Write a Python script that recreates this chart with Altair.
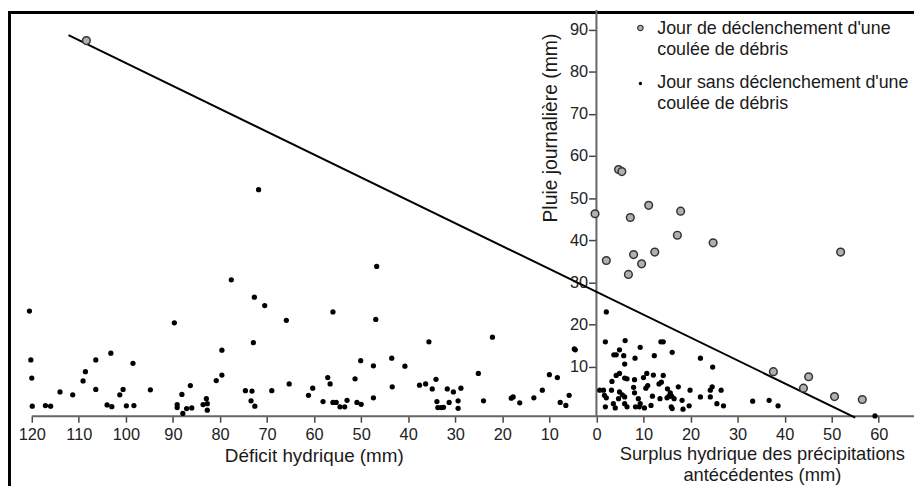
import altair as alt
import pandas as pd

# ---- data ----
# days with a debris flow (x: <0 = hydric deficit, >0 = antecedent surplus, mm ; y: daily rain, mm)
flow_x = [-108.4, -0.3, 4.7, 5.4, 7.2, 11.1, 17.9, 17.2, 24.8, 2.1, 7.9, 6.8, 9.6, 12.4, 51.9,
          37.6, 45.1, 44.0, 50.6, 56.5]
flow_y = [87.4, 46.3, 56.8, 56.3, 45.4, 48.3, 46.9, 41.2, 39.4, 35.2, 36.6, 31.9, 34.4, 37.2, 37.2,
          8.8, 7.6, 4.9, 2.9, 2.2]

# days without a debris flow
noflow_x = [-120.5, -120.2, -120.0, -119.9, -117.1, -116.0, -114.0, -111.3, -109.1, -108.6, -106.4, -106.4,
            -103.2, -104.0, -103.0, -101.3, -100.6, -98.5, -99.9, -98.3, -94.8, -89.7, -89.1, -89.1, -88.1,
            -87.9, -87.1, -86.0, -86.3, -83.6, -82.9, -82.7, -82.7, -80.8,
            -71.8, -77.6, -72.7, -70.5, -65.9, -56.0, -46.7, -46.9, -72.9, -79.6, -79.6, -74.6, -73.2, -73.4,
            -72.6, -69.0, -65.3, -61.2, -60.3, -58.1, -57.1, -56.6, -56.0, -55.3, -54.5, -53.5, -53.0, -51.3,
            -50.9, -50.0, -50.1, -47.4, -47.4, -43.5, -43.4, -40.7,
            -35.6, -37.6, -36.3, -34.9, -34.1, -33.9, -33.7, -33.0, -32.5, -31.7, -31.3, -30.4, -29.4, -29.4,
            -28.8, -25.1, -24.0, -22.1, -18.1, -17.7, -16.3, -13.3, -11.5, -10.0, -8.3, -7.7, -6.5, -5.8,
            -4.7, -4.5,
            1.9, 6.1, 13.7, 14.2, 9.3, 4.9, 3.7, 4.2, 5.8, 8.2, 12.3, 16.1, 22.1, 24.7, 6.0, 3.3, 4.2, 4.9,
            6.0, 6.5, 8.1, 10.0, 10.7, 12.1, 14.2, 13.8, 13.3, 10.9, 10.5, 7.9, 8.1, 1.5, 3.2, 4.9, 5.5, 6.0,
            4.7, 2.1, 1.9, 3.6, 4.0, 6.0, 6.5, 8.9, 9.3, 10.2, 9.1, 8.3, 11.9, 11.6, 13.5, 15.1, 15.7, 16.0,
            16.5, 15.4, 15.0, 17.4, 16.1, 15.9, 18.2, 18.4, 19.9, 19.7, 22.1, 24.2, 24.6, 24.2, 26.5, 25.6,
            27.0, 33.2, 36.7, 38.6, 2.1, 0.7, 1.7, 59.2]
noflow_y = [23.2, 11.6, 7.3, 0.6, 0.75, 0.6, 4.0, 3.3, 6.6, 8.8, 11.6, 4.6,
            13.2, 0.9, 0.5, 3.3, 4.6, 10.8, 0.7, 0.75, 4.5, 20.4, 1.0, 0.3, 3.4,
            -1.1, 0.05, 0.2, 5.5, 1.0, 2.4, 1.2, -0.35, 6.7,
            52.0, 30.6, 26.5, 24.5, 21.0, 23.0, 33.8, 21.2, 15.7, 13.9, 8.0, 4.3, 4.2, 1.9,
            0.6, 4.3, 5.9, 3.2, 4.9, 1.7, 7.4, 5.9, 1.5, 1.5, 0.45, 0.45, 2.0, 7.1,
            1.5, 1.05, 11.4, 10.2, 2.6, 12.0, 5.2, 10.1,
            15.9, 5.6, 5.9, 4.7, 7.0, 1.7, 0.3, 0.3, 0.35, 4.7, 1.5, 4.0, 1.9, 0.1,
            4.9, 8.4, 1.9, 17.0, 2.5, 2.8, 1.4, 2.6, 4.4, 8.1, 7.4, 1.5, 0.8, 3.2,
            14.2, 14.0,
            15.9, 16.2, 15.9, 15.9, 14.6, 14.0, 12.8, 12.8, 12.6, 12.0, 12.6, 13.4, 12.0, 9.9, 10.6, 6.5, 7.9, 8.4,
            7.3, 7.1, 6.9, 7.4, 8.4, 8.0, 7.9, 6.3, 5.9, 5.5, 4.9, 5.1, 3.8, 4.4, 4.4, 4.0, 3.3, 2.8,
            2.4, 2.6, 0.45, 1.2, 0.2, 1.2, 0.45, 2.4, 1.2, 0.2, 0.45, 0.45, 3.0, 0.8, 2.4, 4.75, 3.8, 3.0,
            2.4, 3.0, 2.6, 5.2, 0.05, 0.45, 2.0, -0.1, 4.4, 0.7, 2.8, 4.4, 5.2, 2.8, 4.4, 1.2,
            0.7, 1.8, 2.0, 0.7, 23.0, 4.4, 3.2, -1.7]

# threshold line end points
thr_x = [-112.2, 55.0]
thr_y = [88.7, -2.1]

x_ticks = [-120, -110, -100, -90, -80, -70, -60, -50, -40, -30, -20, -10, 0, 10, 20, 30, 40, 50, 60]
y_ticks = [10, 20, 30, 40, 50, 60, 70, 80, 90]

legend_1 = ["Jour de déclenchement d'une", "coulée de débris"]
legend_2 = ["Jour sans déclenchement d'une", "coulée de débris"]
title_x_left = "Déficit hydrique (mm)"
title_x_right = ["Surplus hydrique des précipitations", "antécédentes (mm)"]
title_y = "Pluie journalière (mm)"

# ---- layout constants ----
W, H = 914, 480
XDOM = [-125.056, 67.49]
YDOM = [-18.31, 94.64]
AXIS_Y0 = -1.76   # data level of the drawn x-axis line
FONT = "Liberation Sans"

flows = pd.DataFrame({"x": flow_x, "y": flow_y})
noflows = pd.DataFrame({"x": noflow_x, "y": noflow_y})
thr = pd.DataFrame({"x": thr_x, "y": thr_y})
xline = pd.DataFrame({"x": [x_ticks[0]], "x2": [XDOM[1]], "y": [AXIS_Y0]})
yline = pd.DataFrame({"x": [0], "y": [AXIS_Y0], "y2": [YDOM[1]]})

xscale = alt.Scale(domain=XDOM, nice=False, zero=False)
yscale = alt.Scale(domain=YDOM, nice=False, zero=False)

xaxis = alt.Axis(orient="bottom", offset=-70.3, values=x_ticks, labelExpr="abs(datum.value)",
                 domain=False, grid=False, title=None, tickSize=6, tickColor="#444", tickWidth=1.5,
                 labelPadding=4, labelFontSize=16.5, labelFont=FONT, labelColor="#222",
                 labelOverlap=False, labelFlush=False, labelBound=False)
yaxis = alt.Axis(orient="left", offset=-593.7, values=y_ticks,
                 domain=False, grid=False, title=None, tickSize=8, tickColor="#444", tickWidth=1.5,
                 labelPadding=1, labelFontSize=16.5, labelFont=FONT, labelColor="#222",
                 labelOverlap=False, labelFlush=False, labelBound=False)


def X(field="x"):
    return alt.X(f"{field}:Q", scale=xscale, axis=xaxis)


def Y(field="y"):
    return alt.Y(f"{field}:Q", scale=yscale, axis=yaxis)


axis_x_line = alt.Chart(xline).mark_rule(color="#666", strokeWidth=2).encode(
    x=X(), x2="x2:Q", y=Y())
axis_y_line = alt.Chart(yline).mark_rule(color="#666", strokeWidth=2).encode(
    x=X(), y=Y(), y2="y2:Q")

frame_left = alt.Chart(pd.DataFrame({"k": [0]})).mark_rule(color="black", strokeWidth=3).encode(
    x=alt.value(1.5), y=alt.value(1), y2=alt.value(H))
frame_top = alt.Chart(pd.DataFrame({"k": [0]})).mark_rule(color="black", strokeWidth=3).encode(
    x=alt.value(0), x2=alt.value(W), y=alt.value(2.5))

threshold = alt.Chart(thr).mark_line(color="black", strokeWidth=2).encode(x=X(), y=Y())

dots = alt.Chart(noflows).mark_circle(color="black", opacity=1, size=28).encode(x=X(), y=Y())
circles = alt.Chart(flows).mark_point(shape="circle", filled=True, fill="#b0b0b0", stroke="#333",
                                      strokeWidth=1.5, opacity=1, size=60).encode(x=X(), y=Y())

one = pd.DataFrame({"k": [0]})
leg_sym1 = alt.Chart(one).mark_point(shape="circle", filled=True, fill="#b0b0b0", stroke="#333",
                                     strokeWidth=1.2, opacity=1, size=30).encode(
    x=alt.value(638), y=alt.value(18))
leg_sym2 = alt.Chart(one).mark_circle(color="black", opacity=1, size=12).encode(
    x=alt.value(638), y=alt.value(74))
leg_txt1 = alt.Chart(one).mark_text(text=legend_1, align="left", baseline="alphabetic", font=FONT,
                                    fontSize=18, lineHeight=21, color="#1a1a1a").encode(
    x=alt.value(655), y=alt.value(24))
leg_txt2 = alt.Chart(one).mark_text(text=legend_2, align="left", baseline="alphabetic", font=FONT,
                                    fontSize=18, lineHeight=20.5, color="#1a1a1a").encode(
    x=alt.value(655), y=alt.value(79))

t_left = alt.Chart(one).mark_text(text=title_x_left, align="center", baseline="alphabetic", font=FONT,
                                  fontSize=19, color="#1a1a1a").encode(x=alt.value(309), y=alt.value(456))
t_right = alt.Chart(one).mark_text(text=title_x_right, align="center", baseline="alphabetic", font=FONT,
                                   fontSize=18.5, lineHeight=21, color="#1a1a1a").encode(
    x=alt.value(761), y=alt.value(454))
t_y = alt.Chart(one).mark_text(text=title_y, align="center", baseline="alphabetic", angle=270, font=FONT,
                               fontSize=19.5, color="#1a1a1a").encode(x=alt.value(554), y=alt.value(119))

chart = alt.layer(
    frame_left, frame_top, axis_x_line, axis_y_line, threshold, dots, circles,
    leg_sym1, leg_sym2, leg_txt1, leg_txt2, t_left, t_right, t_y
).properties(
    width=W, height=H, padding=0, autosize=alt.AutoSizeParams(type="none"),
    background="white"
).configure_view(stroke=None)

chart.save("out.html", embed_options={"renderer": "svg", "actions": False})
